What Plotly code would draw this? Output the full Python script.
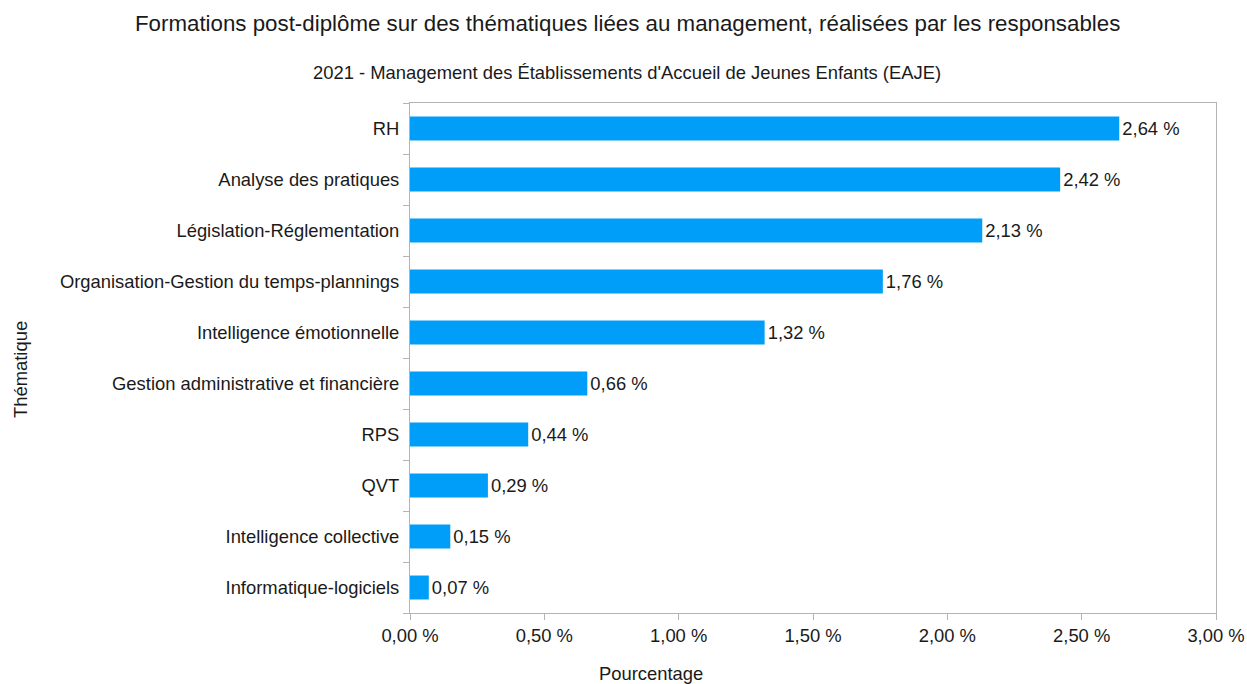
import plotly.graph_objects as go

# Thématiques (from bottom to top) and their percentages
themes = [
    "Informatique-logiciels",
    "Intelligence collective",
    "QVT",
    "RPS",
    "Gestion administrative et financière",
    "Intelligence émotionnelle",
    "Organisation-Gestion du temps-plannings",
    "Législation-Réglementation",
    "Analyse des pratiques",
    "RH",
]
pourcentages = [0.07, 0.15, 0.29, 0.44, 0.66, 1.32, 1.76, 2.13, 2.42, 2.64]
x_ticks = [0, 0.5, 1.0, 1.5, 2.0, 2.5, 3.0]
x_tick_labels = [f"{v:.2f}".replace(".", ",") + " %" for v in x_ticks]

FONT = "Liberation Sans, Arial, sans-serif"
BAR_COLOR = "#009ef8"
AXIS_COLOR = "#b3b3b3"
TEXT_COLOR = "#1a1a1a"
LABEL_SIZE = 18.4

fig = go.Figure(
    go.Bar(
        x=pourcentages,
        y=themes,
        orientation="h",
        marker=dict(color=BAR_COLOR, line=dict(width=0)),
        width=0.47,
        texttemplate="%{x:.2f} %",
        textposition="outside",
        textfont=dict(family=FONT, size=LABEL_SIZE, color=TEXT_COLOR),
        cliponaxis=False,
        hoverinfo="skip",
    )
)

fig.update_layout(
    width=1247,
    height=684,
    margin=dict(l=410, r=31, t=103, b=71),
    paper_bgcolor="white",
    plot_bgcolor="white",
    separators=", ",
    showlegend=False,
    font=dict(family=FONT, color=TEXT_COLOR),
    xaxis=dict(
        range=[0, 3],
        automargin=False,
        tickmode="array",
        tickvals=x_ticks,
        ticktext=x_tick_labels,
        showgrid=False,
        zeroline=False,
        showline=True,
        mirror=True,
        linecolor=AXIS_COLOR,
        linewidth=1,
        ticks="outside",
        ticklen=6,
        tickcolor=AXIS_COLOR,
        tickfont=dict(family=FONT, size=LABEL_SIZE, color=TEXT_COLOR),
    ),
    yaxis=dict(
        categoryorder="array",
        categoryarray=themes,
        automargin=False,
        showgrid=False,
        zeroline=False,
        showline=True,
        mirror=True,
        linecolor=AXIS_COLOR,
        linewidth=1,
        ticks="outside",
        tickson="boundaries",
        ticklen=6,
        tickcolor=AXIS_COLOR,
        ticklabelstandoff=6,
        tickfont=dict(family=FONT, size=LABEL_SIZE, color=TEXT_COLOR),
    ),
    annotations=[
        dict(
            text="Formations post-diplôme sur des thématiques liées au management, réalisées par les responsables",
            xref="paper", yref="paper",
            x=(627 - 410) / (1247 - 441), y=1 + (103 - 23) / 510,
            xanchor="center", yanchor="middle", showarrow=False,
            font=dict(family=FONT, size=22.3, color=TEXT_COLOR),
        ),
        dict(
            text="2021 - Management des Établissements d'Accueil de Jeunes Enfants (EAJE)",
            xref="paper", yref="paper",
            x=(627 - 410) / (1247 - 441), y=1 + (103 - 72) / 510,
            xanchor="center", yanchor="middle", showarrow=False,
            font=dict(family=FONT, size=LABEL_SIZE, color=TEXT_COLOR),
        ),
        dict(
            text="Pourcentage",
            xref="paper", yref="paper",
            x=(651 - 410) / (1247 - 441), y=-(673 - 613) / 510,
            xanchor="center", yanchor="middle", showarrow=False,
            font=dict(family=FONT, size=LABEL_SIZE, color=TEXT_COLOR),
        ),
        dict(
            text="Thématique",
            xref="paper", yref="paper",
            x=-(410 - 20) / (1247 - 441), y=1 - (370 - 103) / 510,
            xanchor="center", yanchor="middle", showarrow=False,
            textangle=-90,
            font=dict(family=FONT, size=LABEL_SIZE, color=TEXT_COLOR),
        ),
    ],
)

fig.write_html("out.html")
